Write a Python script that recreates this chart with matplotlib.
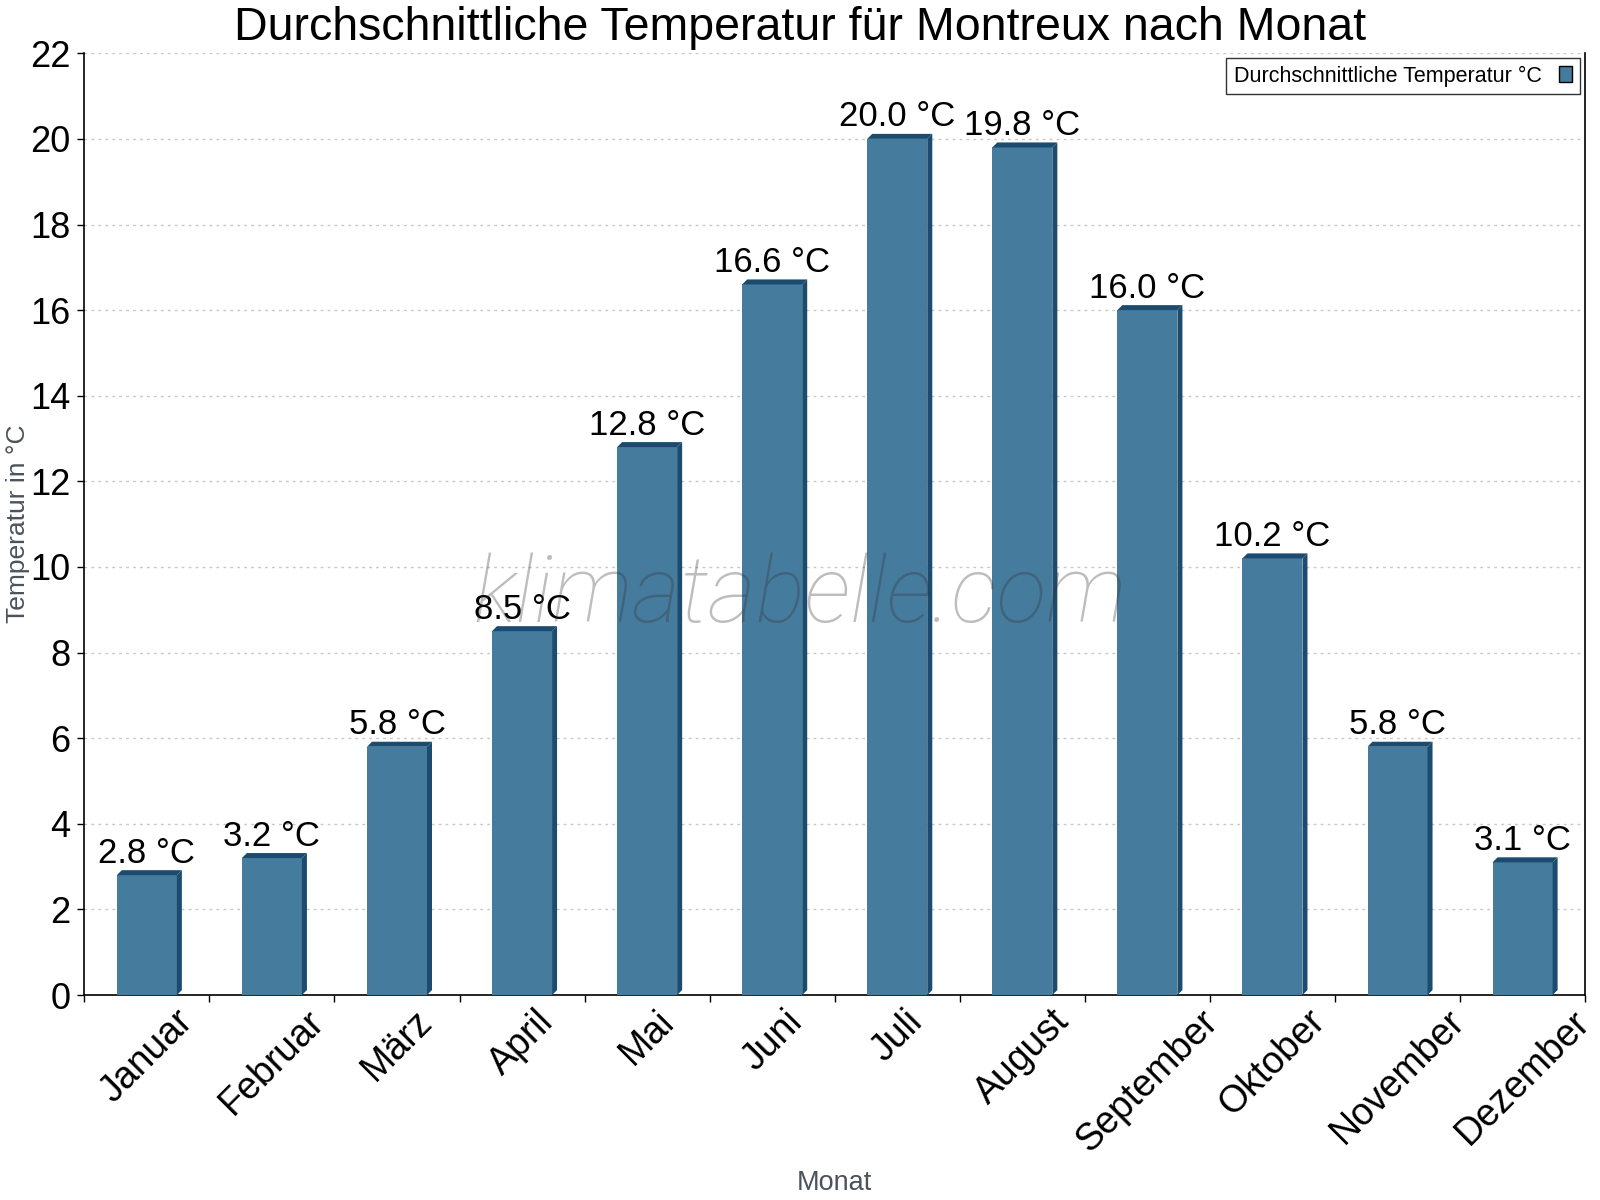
import numpy as np
import matplotlib
matplotlib.use('Agg')
import matplotlib.pyplot as plt
from matplotlib.patches import Patch

plt.rcParams['font.family'] = ['Liberation Sans', 'DejaVu Sans']

# Daten
monate = ['Januar', 'Februar', 'März', 'April', 'Mai', 'Juni', 'Juli',
          'August', 'September', 'Oktober', 'November', 'Dezember']
temperatur = [2.8, 3.2, 5.8, 8.5, 12.8, 16.6, 20.0, 19.8, 16.0, 10.2, 5.8, 3.1]
y_ticks = [0, 2, 4, 6, 8, 10, 12, 14, 16, 18, 20, 22]

FRONT = '#457b9d'
SIDE = '#1b4b6e'
BAR_W = 0.48
DX, DY = 0.04, 0.117   # "3D"-Tiefe in Dateneinheiten

fig = plt.figure(figsize=(16, 12), dpi=100)
ax = fig.add_axes([0.0527, 0.1708, 0.938, 0.7848])

x = np.arange(len(monate))
ax.bar(x, temperatur, width=BAR_W, color=FRONT, zorder=3)
for xi, v in zip(x, temperatur):
    x1 = xi + BAR_W / 2
    x0 = xi - BAR_W / 2
    # Seitenflaeche
    ax.fill([x1, x1 + DX, x1 + DX, x1], [0, DY, v + DY, v], color=SIDE, lw=0, zorder=3)
    # Deckflaeche
    ax.fill([x0, x0 + DX, x1 + DX, x1], [v, v + DY, v + DY, v], color=SIDE, lw=0, zorder=3)
    ax.text(xi, v + DY + 0.01, f'{v:.1f} °C', ha='center', va='bottom',
            fontsize=25, color='black', zorder=5)

ax.set_xlim(-0.5, len(monate) - 0.5)
ax.set_ylim(0, 22)
ax.set_yticks(y_ticks)
ax.tick_params(axis='y', labelsize=26, length=5, width=1, pad=5)
ax.set_xticks(x)
ax.set_xticklabels(monate, rotation=45, ha='center', fontsize=27)
ax.tick_params(axis='x', which='major', length=0, pad=6)
ax.set_xticks(np.arange(-0.5, len(monate)), minor=True)
ax.tick_params(axis='x', which='minor', length=5, width=1)

ax.grid(axis='y', color='#c8c8c8', ls=(0, (2, 3)), lw=1, zorder=0)
ax.set_axisbelow(True)
ax.spines['top'].set_visible(False)
for s in ['left', 'bottom', 'right']:
    ax.spines[s].set_linewidth(1.2)

ax.set_ylabel('Temperatur in °C', fontsize=19, color='#4b525b', va='center')
ax.yaxis.set_label_coords(-0.044, 0.5)
ax.set_xlabel('Monat', fontsize=19.5, color='#4b525b', va='top')
ax.xaxis.set_label_coords(0.5, -0.186)

fig.text(0.5, 1 - 40 / 1200, 'Durchschnittliche Temperatur für Montreux nach Monat',
         ha='center', va='baseline', fontsize=33.5)

# Wasserzeichen
ax.text(0.477, 0.423, 'klimatabelle.com', transform=ax.transAxes,
        ha='center', va='center', fontsize=66.5, family='Roboto',
        style='italic', fontweight='light', color='#333333', alpha=0.32, zorder=6)

handle = Patch(facecolor=FRONT, edgecolor='black', lw=1)
leg = fig.legend([handle], ['Durchschnittliche Temperatur °C'],
                 loc='upper right', bbox_to_anchor=(0.9875, 0.9517),
                 fontsize=15.5, markerfirst=False, frameon=True, fancybox=False,
                 handlelength=0.62, handleheight=0.8, borderaxespad=0,
                 borderpad=0.35, handletextpad=0.8)
leg.get_frame().set_edgecolor('black')
leg.get_frame().set_linewidth(1)

fig.savefig('out.png', dpi=100)
